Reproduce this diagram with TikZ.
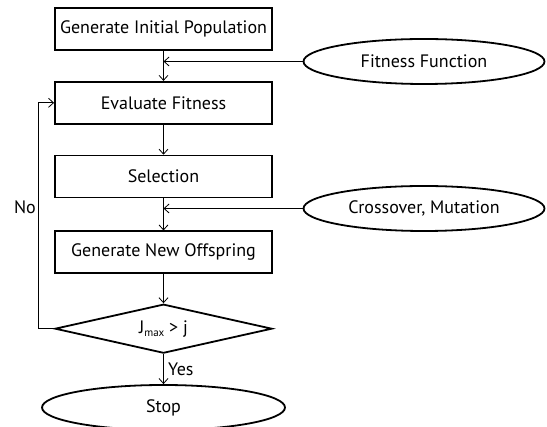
\documentclass[tikz,border=0pt]{standalone}
\usepackage{fontspec}
\setmainfont{PT Sans}
\usetikzlibrary{shapes,arrows.meta,calc,positioning}

\begin{document}
\begin{tikzpicture}[x=1pt,y=-1pt,font=\fontsize{18}{22}\selectfont]
\tikzset{block/.style={rectangle,draw,line width=1.8pt,minimum width=217pt,minimum height=42pt,inner sep=0pt}}
\tikzset{decide/.style={diamond,draw,line width=1.8pt,minimum width=217pt,minimum height=49pt,aspect=4.4,inner sep=0pt}}
\tikzset{term/.style={ellipse,draw,line width=1.8pt,minimum width=241pt,minimum height=45pt,inner sep=0pt}}
\tikzset{flow/.style={line width=0.8pt,-{Straight Barb[length=5pt,width=9pt]}}}

\useasboundingbox (0,0) rectangle (547,427);

\node [block] (init) at (163.5,29) {Generate Initial Population};
\node [block, below=30pt of init] (eval) {Evaluate Fitness};
\node [block, below=30pt of eval] (sel) {Selection};
\node [block, below=32pt of sel] (offs) {Generate New Offspring};
\node [decide, below=29pt of offs] (dec) {J\raisebox{-0.35ex}{\fontsize{11}{13}\selectfont max} > j};
\node [term, below=30pt of dec, minimum width=243pt] (stop) {Stop};

\node [term] (fit) at (424,61.5) {Fitness Function};
\node [term] (cross) at (424,208.5) {Crossover, Mutation};

\coordinate (fitin) at (init.south |- fit.west);
\coordinate (crossin) at (sel.south |- cross.west);
\coordinate (loop) at ([xshift=-16pt]dec.west);

\draw[flow] (init) -- (eval);
\draw[flow] (eval) -- (sel);
\draw[flow] (sel) -- (offs);
\draw[flow] (offs) -- (dec);
\draw[flow] (dec) -- node[right=1pt] (yes) {Yes} (stop);

\draw[flow] (fit) -- (fitin);
\draw[flow] (cross) -- (crossin);

\draw[flow] (dec.west) -- (loop) |- (eval.west);
\node (no) at (25,207) {No};
\end{tikzpicture}
\end{document}
